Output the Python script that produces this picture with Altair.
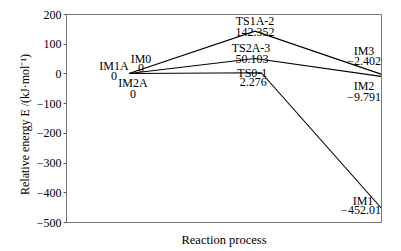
import altair as alt
import pandas as pd

# Data
paths = ["A", "A", "A", "B", "B", "B", "C", "C", "C"]
stage_x = [1, 3, 5, 1, 3.1, 5, 1, 3, 5]
energies = [0, 142.352, -2.402, 0, 2.276, -452.01, 0, 50.103, -9.791]
names = ["IM1A", "TS1A-2", "IM3", "IM0", "TS0-1", "IM1", "IM2A", "TS2A-3", "IM2"]
value_labels = ["0", "142.352", "\u22122.402", "0", "2.276", "\u2212452.01", "0", "50.103", "\u22129.791"]
y_ticks = [-500, -400, -300, -200, -100, 0, 100, 200]

df = pd.DataFrame({"path": paths, "x": stage_x, "y": energies, "order": [0, 1, 2] * 3,
                   "name": names, "val": value_labels})

FONT = "Liberation Serif"
xs = alt.Scale(domain=[0, 5], nice=False, zero=False)
ys = alt.Scale(domain=[-500, 200], nice=False)

x_axis = alt.Axis(title="Reaction process", labels=False, ticks=False,
                  titleBaseline="middle", titleY=17, titleFontSize=12.5)
y_axis = alt.Axis(title="Relative energy  E /(kJ\u00b7mol\u207b\u00b9)",
                  values=y_ticks, labelOverlap=False, labelFlush=False,
                  titleAlign="center", titleBaseline="middle",
                  titleAngle=270, titleX=-42, titleY=110)

lines = alt.Chart(df).mark_line(color="black", strokeWidth=1.1).encode(
    x=alt.X("x:Q", scale=xs, axis=x_axis),
    y=alt.Y("y:Q", scale=ys, axis=y_axis),
    detail="path:N",
    order="order:Q",
)

# label offsets (name dx, dy, value dx, dy) per point, in order of names
offsets = {
    "IM1A": (-15, -7, -15, 3),
    "TS1A-2": (0, -10, 0, 1),
    "IM3": (-17, -23, -17, -13),
    "IM0": (12, -14, 12, -5),
    "TS0-1": (-9, 0, -8, 9),
    "IM1": (-18, -7, -20, 2),
    "IM2A": (4, 10, 4, 21),
    "TS2A-3": (-4, -11, -3, 0),
    "IM2": (-17, 10, -17, 21),
}

layers = [lines]
for n in names:
    ndx, ndy, vdx, vdy = offsets[n]
    sub = alt.Chart(df).transform_filter(alt.datum.name == n)
    layers.append(sub.mark_text(baseline="middle", align="center", dx=ndx, dy=ndy).encode(
        x=alt.X("x:Q", scale=xs, axis=x_axis), y=alt.Y("y:Q", scale=ys, axis=y_axis), text="name:N"))
    layers.append(sub.mark_text(baseline="middle", align="center", dx=vdx, dy=vdy).encode(
        x=alt.X("x:Q", scale=xs, axis=x_axis), y=alt.Y("y:Q", scale=ys, axis=y_axis), text="val:N"))

chart = alt.layer(*layers).properties(
    width=315, height=208,
    autosize=alt.AutoSizeParams(type="none"),
    padding={"left": 66, "top": 14, "right": 20, "bottom": 29},
    background="white",
).configure_view(stroke="#777", strokeWidth=1).configure_axis(
    grid=False, domainColor="#777", tickColor="#555", tickSize=3, labelPadding=2,
    labelFont=FONT, labelFontSize=12, labelColor="black", labelOverlap=False,
    titleFont=FONT, titleFontSize=12, titleFontWeight="normal", titleColor="black",
).configure_text(font=FONT, fontSize=12, color="black")

chart.save("out.html", embed_options={"renderer": "svg", "actions": False})
